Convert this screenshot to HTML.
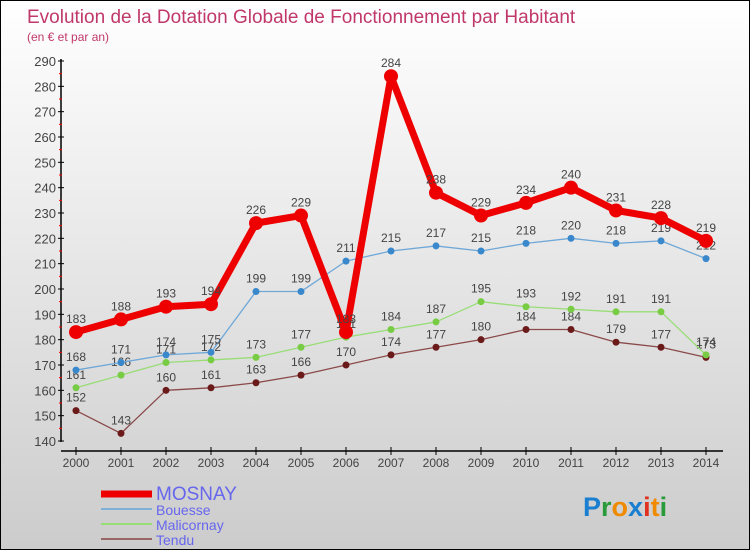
<!DOCTYPE html>
<html><head><meta charset="utf-8"><style>
body{margin:0}
#wrap{position:relative;width:748px;height:548px;border:1px solid #000;background:linear-gradient(#fff,#ccc);font-family:"Liberation Sans",sans-serif;overflow:hidden}
svg{position:absolute;left:0;top:0}
</style></head><body>
<div id="wrap">
<svg id="c" width="748" height="548">
<text x="26" y="22" font-size="19" fill="#c0386a">Evolution de la Dotation Globale de Fonctionnement par Habitant</text>
<text x="26" y="40" font-size="12" fill="#c0386a">(en € et par an)</text>
</svg>
</div>
<script>
const years=[2000,2001,2002,2003,2004,2005,2006,2007,2008,2009,2010,2011,2012,2013,2014];
const mosnay=[183,188,193,194,226,229,183,284,238,229,234,240,231,228,219];
const bouesse=[168,171,174,175,199,199,211,215,217,215,218,220,218,219,212];
const malicornay=[161,166,171,172,173,177,181,184,187,195,193,192,191,191,174];
const tendu=[152,143,160,161,163,166,170,174,177,180,184,184,179,177,173];
const yTicks=[140,150,160,170,180,190,200,210,220,230,240,250,260,270,280,290];
const NS="http://www.w3.org/2000/svg";
const svg=document.getElementById('c');
const x=i=>75+i*45;
const y=v=>440-(v-140)*(380/150);
function el(t,a,p){const e=document.createElementNS(NS,t);for(const k in a)e.setAttribute(k,a[k]);(p||svg).appendChild(e);return e;}
const yAxis=el('line',{x1:60,y1:58,x2:60,y2:441,stroke:'#000','stroke-width':1.5});


const xAxis=el('line',{x1:60,y1:450,x2:722,y2:450,stroke:'#000','stroke-width':1.5});


yTicks.forEach((v,i)=>{
 el('line',{x1:57,x2:63,y1:y(v),y2:y(v),stroke:'#000'});
 if(i<yTicks.length-1)el('line',{x1:58,x2:61,y1:y(v+5),y2:y(v+5),stroke:'#f00'});
 const t=el('text',{x:55,y:y(v)+5,'text-anchor':'end','font-size':13,fill:'#444'});
 t.textContent=v;
 
 
});
years.forEach((yr,i)=>{
 el('line',{x1:x(i),x2:x(i),y1:446,y2:454,stroke:'#000'});
 const t=el('text',{x:x(i),y:466,'text-anchor':'middle','font-size':12,fill:'#444'});
 t.textContent=yr;
 
 
});
function series(data,color,w,r,name,ptColor){
 const g=el('g',{});
 
 
 const pl=el('polyline',{points:data.map((v,i)=>x(i)+','+y(v)).join(' '),fill:'none',stroke:color,'stroke-width':w,'stroke-linejoin':'round'},g);
 
 
 data.forEach((v,i)=>{
  const c=el('circle',{cx:x(i),cy:y(v),r:r,fill:ptColor},g);
  
  
  const t=el('text',{x:x(i),y:y(v)-9,'text-anchor':'middle','font-size':12,fill:'#444'},g);
  t.textContent=v;
  
  
 });
}
series(tendu,'#8b4a4a',1.3,3.5,'tendu','#6b1a1a');
series(malicornay,'#99dd77',1.3,3.5,'malicornay','#77cc44');
series(bouesse,'#6fa8d8',1.3,3.5,'bouesse','#3a88cc');
series(mosnay,'#ee0000',7,7,'mosnay','#ee0000');
const leg=[['MOSNAY','#ee0000',7,19],['Bouesse','#7fb0d8',2,14],['Malicornay','#99dd77',2,14],['Tendu','#996666',2,14]];
leg.forEach((l,i)=>{
 const yy=493+i*15;
 const g=el('g',{});
 
 
 el('line',{x1:100,x2:151,y1:yy,y2:yy,stroke:l[1],'stroke-width':l[2]},g);
 const t=el('text',{x:155,y:yy+6,'font-size':l[3],fill:'#6666ee'},g);
 t.textContent=l[0];
});
const lg=el('text',{x:582,y:515,'font-size':27,'font-weight':'bold'});


[['P','#1a7fd0'],['r','#2a9a3a'],['o','#f08a00'],['x','#1a7fd0'],['i','#e03020'],['t','#f08a00'],['i','#2a9a3a']].forEach(p=>{const s=el('tspan',{fill:p[1]},lg);s.textContent=p[0];});
</script>
</body></html>
